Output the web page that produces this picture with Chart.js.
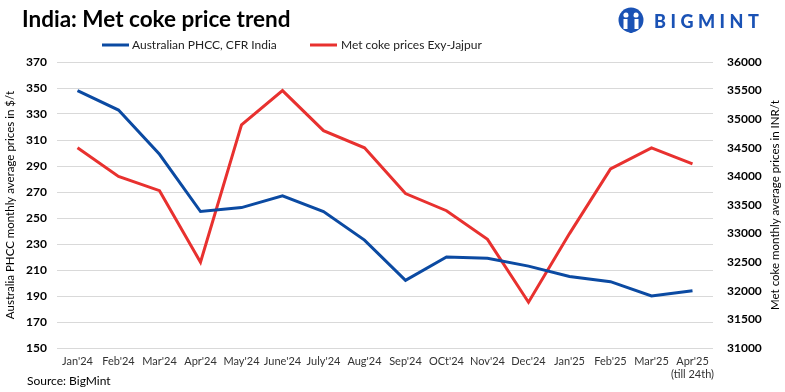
<!DOCTYPE html>
<html>
<head>
<meta charset="utf-8">
<script src="https://cdn.jsdelivr.net/npm/chart.js@4.4.1/dist/chart.umd.min.js"></script>
<style>
html,body{margin:0;padding:0;background:#fff;}
#wrap{width:785px;height:392px;position:relative;}
</style>
</head>
<body>
<div id="wrap"><canvas id="c" width="785" height="392"></canvas></div>
<script>
const categories = ["Jan'24","Feb'24","Mar'24","Apr'24","May'24","June'24","July'24","Aug'24","Sep'24","OCt'24","Nov'24","Dec'24","Jan'25","Feb'25","Mar'25",["Apr'25","(till 24th)"]];
const phccUSD = [348,333,299,255,258,267,255,233,202,220,219,213,205,201,190,194];
const metCokeINR = [34500,34000,33750,32500,34900,35500,34800,34500,33700,33400,32900,31800,33000,34130,34500,34220];
const leftTicks = [150,170,190,210,230,250,270,290,310,330,350,370];
const rightTicks = [31000,31500,32000,32500,33000,33500,34000,34500,35000,35500,36000];

const FONT = "Lato, 'Liberation Sans', sans-serif";
const BLUE = '#0B4AA2';
const RED = '#E8312F';

const decor = {
  id: 'decor',
  afterDraw(chart) {
    const ctx = chart.ctx;
    ctx.save();
    // title
    ctx.fillStyle = '#000';
    ctx.font = "bold 22.5px " + FONT;
    ctx.textBaseline = 'middle';
    ctx.textAlign = 'left';
    ctx.fillText('India: Met coke price trend', 22, 20);
    // legend
    const ds = chart.data.datasets;
    const items = [{x:102, tx:132}, {x:310, tx:341}];
    ctx.font = "12px " + FONT;
    ds.forEach((d, i) => {
      const it = items[i];
      ctx.strokeStyle = d.borderColor;
      ctx.lineWidth = 3;
      ctx.beginPath();
      ctx.moveTo(it.x, 45);
      ctx.lineTo(it.x + 27, 45);
      ctx.stroke();
      ctx.fillStyle = '#222';
      ctx.fillText(d.label, it.tx, 45);
    });
    // right axis title (reads bottom to top)
    const ca = chart.chartArea;
    ctx.save();
    ctx.translate(775, (ca.top + ca.bottom) / 2);
    ctx.rotate(-Math.PI / 2);
    ctx.textAlign = 'center';
    ctx.fillStyle = '#000';
    ctx.font = "11.5px " + FONT;
    ctx.fillText('Met coke monthly average prices in INR/t', 0, 0);
    ctx.restore();
    // source
    ctx.fillStyle = '#000';
    ctx.font = "12px " + FONT;
    ctx.fillText('Source: BigMint', 27, 381);
    // logo icon
    const cx = 631, cy = 20, r = 12.5;
    ctx.fillStyle = '#1A52B5';
    ctx.beginPath();
    ctx.arc(cx, cy, r, 0, Math.PI * 2);
    ctx.fill();
    ctx.fillStyle = '#fff';
    ctx.beginPath(); ctx.arc(cx - 5, cy - 5, 2.6, 0, Math.PI * 2); ctx.fill();
    ctx.beginPath(); ctx.arc(cx + 5, cy - 5, 2.6, 0, Math.PI * 2); ctx.fill();
    ctx.fillRect(cx - 7.5, cy - 1, 4, 10);
    ctx.fillRect(cx + 3.5, cy - 1, 4, 10);
    ctx.fillStyle = '#1A52B5';
    ctx.beginPath(); ctx.arc(cx, cy - 6, 2.5, 0, Math.PI * 2); ctx.fill();
    ctx.fillRect(cx - 1.5, cy - 3, 3, 16);
    // logo text
    ctx.fillStyle = '#1A52B5';
    ctx.font = "900 18px " + FONT;
    const word = 'BIGMINT';
    let x = 654;
    for (const ch of word) {
      ctx.fillText(ch, x, 22);
      x += ctx.measureText(ch).width + 4.5;
    }
    ctx.restore();
  }
};

new Chart(document.getElementById('c'), {
  type: 'line',
  data: {
    labels: categories,
    datasets: [
      { label: 'Australian PHCC, CFR India', data: phccUSD, yAxisID: 'y', borderColor: BLUE, backgroundColor: BLUE, borderWidth: 3, pointRadius: 0, tension: 0 },
      { label: 'Met coke prices Exy-Jajpur', data: metCokeINR, yAxisID: 'y1', borderColor: RED, backgroundColor: RED, borderWidth: 3, pointRadius: 0, tension: 0 }
    ]
  },
  options: {
    responsive: false,
    animation: false,
    devicePixelRatio: 1,
    layout: { padding: { top: 62, left: 0, right: 0, bottom: 0 } },
    plugins: { legend: { display: false }, title: { display: false }, tooltip: { enabled: false } },
    scales: {
      x: {
        offset: true,
        grid: { display: false, drawTicks: false },
        border: { display: false },
        ticks: { font: { family: FONT, size: 11 }, color: '#333', padding: 7, maxRotation: 0, autoSkip: false },
        afterFit(s) { s.height = 44; }
      },
      y: {
        position: 'left',
        min: 150, max: 370,
        afterBuildTicks(s) { s.ticks = leftTicks.map(v => ({ value: v })); },
        grid: { color: '#D9D9D9', lineWidth: 1, drawTicks: false },
        border: { display: false },
        ticks: { font: { family: FONT, size: 12, weight: 'bold' }, color: '#000', padding: 10 },
        title: { display: true, text: 'Australia PHCC monthly average prices in $/t', font: { family: FONT, size: 11.5 }, color: '#000', padding: 3 },
        afterFit(s) { s.width = 57; }
      },
      y1: {
        position: 'right',
        min: 31000, max: 36000,
        afterBuildTicks(s) { s.ticks = rightTicks.map(v => ({ value: v })); },
        grid: { display: false, drawTicks: false },
        border: { display: false },
        ticks: { font: { family: FONT, size: 12, weight: 'bold' }, color: '#000', padding: 14, callback: (v) => String(v) },
        title: { display: false },
        afterFit(s) { s.width = 72; }
      }
    }
  },
  plugins: [decor]
});
</script>
</body>
</html>
